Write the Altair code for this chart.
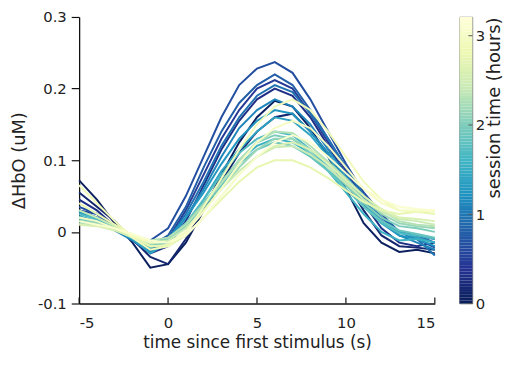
import altair as alt
import numpy as np
import pandas as pd

time_s = list(range(-5, 16))

session_hours = [0.05, 0.15, 0.3, 0.45, 0.65, 0.8, 0.95, 1.1, 1.25, 1.4, 1.55,
                 1.7, 1.85, 2.0, 2.15, 2.3, 2.45, 2.6, 2.75, 2.9, 3.0, 3.1]

c00 = [0.072, 0.045, 0.012, -0.015, -0.05, -0.045, -0.015, 0.03, 0.08, 0.125, 0.16, 0.183, 0.175, 0.145, 0.105, 0.06, 0.012, -0.015, -0.028, -0.025, -0.03]
c01 = [0.055, 0.035, 0.015, -0.01, -0.035, -0.045, -0.01, 0.03, 0.07, 0.11, 0.14, 0.16, 0.165, 0.14, 0.11, 0.07, 0.03, -0.005, -0.02, -0.022, -0.025]
c02 = [0.045, 0.03, 0.008, -0.012, -0.03, -0.02, 0.015, 0.065, 0.115, 0.155, 0.185, 0.2, 0.19, 0.16, 0.12, 0.08, 0.04, 0.005, -0.015, -0.02, -0.015]
c03 = [0.03, 0.025, 0.005, -0.01, -0.025, -0.01, 0.03, 0.08, 0.13, 0.17, 0.2, 0.212, 0.2, 0.165, 0.125, 0.085, 0.045, 0.015, 0.0, -0.005, -0.01]
c04 = [0.035, 0.025, 0.005, -0.008, -0.012, 0.005, 0.05, 0.105, 0.16, 0.205, 0.228, 0.237, 0.222, 0.185, 0.14, 0.095, 0.055, 0.025, 0.0, -0.01, -0.022]
c05 = [0.03, 0.02, 0.008, -0.005, -0.02, -0.005, 0.035, 0.09, 0.14, 0.18, 0.205, 0.22, 0.205, 0.17, 0.13, 0.09, 0.05, 0.02, 0.0, -0.005, -0.015]
c06 = [0.025, 0.02, 0.005, -0.01, -0.025, -0.01, 0.025, 0.07, 0.12, 0.16, 0.19, 0.205, 0.195, 0.165, 0.13, 0.09, 0.05, 0.02, 0.0, -0.01, -0.033]
c07 = [0.03, 0.02, 0.002, -0.012, -0.028, -0.015, 0.02, 0.06, 0.105, 0.145, 0.17, 0.185, 0.175, 0.15, 0.115, 0.08, 0.045, 0.015, -0.005, -0.015, -0.025]
c08 = [0.028, 0.018, 0.005, -0.008, -0.02, -0.01, 0.02, 0.055, 0.095, 0.13, 0.155, 0.17, 0.165, 0.14, 0.11, 0.075, 0.04, 0.012, -0.005, -0.01, -0.02]
c09 = [0.022, 0.015, 0.005, -0.01, -0.03, -0.015, 0.01, 0.045, 0.085, 0.115, 0.14, 0.16, 0.155, 0.135, 0.105, 0.07, 0.04, 0.015, 0.0, -0.008, -0.015]
c10 = [0.02, 0.015, 0.005, -0.005, -0.02, -0.015, 0.01, 0.04, 0.07, 0.1, 0.12, 0.13, 0.125, 0.11, 0.085, 0.055, 0.025, 0.0, -0.012, -0.01, -0.015]
c11 = [0.025, 0.018, 0.006, -0.006, -0.022, -0.012, 0.012, 0.045, 0.08, 0.11, 0.13, 0.14, 0.135, 0.115, 0.09, 0.06, 0.035, 0.012, -0.002, -0.005, -0.01]
c12 = [0.018, 0.014, 0.004, -0.004, -0.018, -0.01, 0.008, 0.035, 0.065, 0.095, 0.115, 0.125, 0.12, 0.105, 0.085, 0.06, 0.035, 0.015, 0.002, -0.003, -0.008]
c13 = [0.02, 0.012, 0.006, -0.004, -0.015, -0.01, 0.012, 0.04, 0.07, 0.1, 0.125, 0.135, 0.13, 0.11, 0.09, 0.065, 0.04, 0.02, 0.008, 0.005, 0.0]
c14 = [0.015, 0.012, 0.005, -0.006, -0.018, -0.012, 0.006, 0.03, 0.06, 0.09, 0.115, 0.13, 0.13, 0.115, 0.095, 0.07, 0.045, 0.025, 0.012, 0.008, 0.005]
c15 = [0.012, 0.01, 0.003, -0.004, -0.012, -0.008, 0.01, 0.038, 0.068, 0.1, 0.125, 0.14, 0.138, 0.12, 0.098, 0.075, 0.05, 0.03, 0.015, 0.01, 0.008]
c16 = [0.03, 0.02, 0.008, -0.005, -0.015, -0.012, 0.005, 0.03, 0.06, 0.085, 0.105, 0.118, 0.12, 0.108, 0.09, 0.068, 0.045, 0.028, 0.018, 0.015, 0.01]
c17 = [0.01, 0.008, 0.002, -0.008, -0.02, -0.02, -0.005, 0.02, 0.05, 0.08, 0.105, 0.12, 0.125, 0.115, 0.095, 0.072, 0.05, 0.032, 0.02, 0.018, 0.015]
c18 = [0.04, 0.025, 0.01, -0.005, -0.02, -0.018, -0.005, 0.02, 0.045, 0.07, 0.09, 0.1, 0.1, 0.09, 0.075, 0.058, 0.042, 0.03, 0.025, 0.028, 0.025]
c19 = [0.065, 0.04, 0.015, -0.008, -0.025, -0.02, 0.0, 0.035, 0.075, 0.115, 0.15, 0.175, 0.185, 0.17, 0.14, 0.105, 0.07, 0.045, 0.03, 0.028, 0.03]
c20 = [0.02, 0.015, 0.005, -0.005, -0.015, -0.015, 0.0, 0.028, 0.06, 0.095, 0.125, 0.145, 0.155, 0.145, 0.12, 0.09, 0.06, 0.04, 0.03, 0.03, 0.028]
c21 = [0.015, 0.01, 0.005, -0.003, -0.012, -0.015, -0.005, 0.02, 0.05, 0.08, 0.105, 0.125, 0.135, 0.125, 0.105, 0.082, 0.06, 0.045, 0.035, 0.032, 0.03]

curves = [c00, c01, c02, c03, c04, c05, c06, c07, c08, c09, c10,
          c11, c12, c13, c14, c15, c16, c17, c18, c19, c20, c21]

x_ticks = [-5, 0, 5, 10, 15]
y_ticks = [-0.1, 0, 0.1, 0.2, 0.3]
cbar_ticks = [0, 1, 2, 3]

ylgnbu_r = ["#081d58", "#253494", "#225ea8", "#1d91c0", "#41b6c4",
            "#7fcdbb", "#c7e9b4", "#edf8b1", "#ffffd9"]
cmax = 3.21
color_domain = list(np.linspace(0, cmax, len(ylgnbu_r)))

rows = []
for i, (s, vals) in enumerate(zip(session_hours, curves)):
    for t, v in zip(time_s, vals):
        rows.append({"id": i, "session": s, "t": t, "hbo": v})
df = pd.DataFrame(rows)

font = "DejaVu Sans"
ink = "#222222"

color_scale = alt.Scale(domain=color_domain, range=ylgnbu_r, interpolate="rgb")
x_scale = alt.Scale(domain=[-5, 15], nice=False)
y_scale = alt.Scale(domain=[-0.1, 0.3], nice=False)

W, H = 360, 290

lines = alt.Chart(df).mark_line(strokeWidth=2, interpolate="linear").encode(
    x=alt.X("t:Q", scale=x_scale,
            axis=alt.Axis(values=x_ticks, title="time since first stimulus (s)",
                          labelExpr="datum.value < 0 ? '-' + format(-datum.value, 'd') : format(datum.value, 'd')",
                          ticks=False, labelPadding=12, titlePadding=5, titleFontSize=17)),
    y=alt.Y("hbo:Q", scale=y_scale,
            axis=alt.Axis(values=y_ticks, title="ΔHbO (uM)",
                          labelExpr="abs(datum.value) < 1e-9 ? '0' : (datum.value < 0 ? '-' + format(-datum.value, '.1f') : format(datum.value, '.1f'))",
                          tickSize=8, labelPadding=5, titlePadding=9, titleFontSize=18)),
    color=alt.Color("session:Q", scale=color_scale, legend=None),
    detail="id:N",
    order=alt.Order("session:Q"),
)

xtick_df = pd.DataFrame({"t": x_ticks})
xticks = alt.Chart(xtick_df).mark_rule(color="#111", strokeWidth=1.2).encode(
    x=alt.X("t:Q", scale=x_scale),
    y=alt.value(H),
    y2=alt.value(H - 6),
)

main = alt.layer(lines, xticks).properties(
    width=W, height=H, view=alt.ViewBackground(stroke=None))

levels = np.linspace(0, cmax, 100)
bar_df = pd.DataFrame({"lo": levels[:-1], "hi": levels[1:], "mid": (levels[:-1] + levels[1:]) / 2})
cb_scale = alt.Scale(domain=[0, cmax], nice=False)

bar = alt.Chart(bar_df).mark_rect().encode(
    y=alt.Y("lo:Q", scale=cb_scale,
            axis=alt.Axis(orient="right", values=cbar_ticks, title="session time (hours)",
                          format="d",
                          titleAngle=270, titleBaseline="top", titleAnchor="end",
                          domain=False, ticks=False, labelPadding=3, titlePadding=1,
                          titleFontSize=18)),
    y2="hi:Q",
    color=alt.Color("mid:Q", scale=color_scale, legend=None),
)
cb_tick_df = pd.DataFrame({"lo": cbar_ticks})
cb_ticks = alt.Chart(cb_tick_df).mark_rule(color="#555", strokeWidth=1).encode(
    y=alt.Y("lo:Q", scale=cb_scale),
    x=alt.value(9),
    x2=alt.value(13),
)
cbar = alt.layer(bar, cb_ticks).properties(
    width=13, height=H, view=alt.ViewBackground(stroke="#555", strokeWidth=0.8))

chart = alt.hconcat(main, cbar, spacing=20).properties(
    padding={"left": 2, "top": 0, "right": 0, "bottom": 0}
).configure_axis(
    labelFont=font, titleFont=font, labelFontSize=15,
    labelColor=ink, titleColor=ink, titleFontWeight="normal",
    domainColor="#111", domainWidth=1.3, tickColor="#111", tickWidth=1.2,
    grid=False,
).configure_view(stroke=None)

chart.save("out.html", embed_options={"renderer": "svg", "actions": False})
